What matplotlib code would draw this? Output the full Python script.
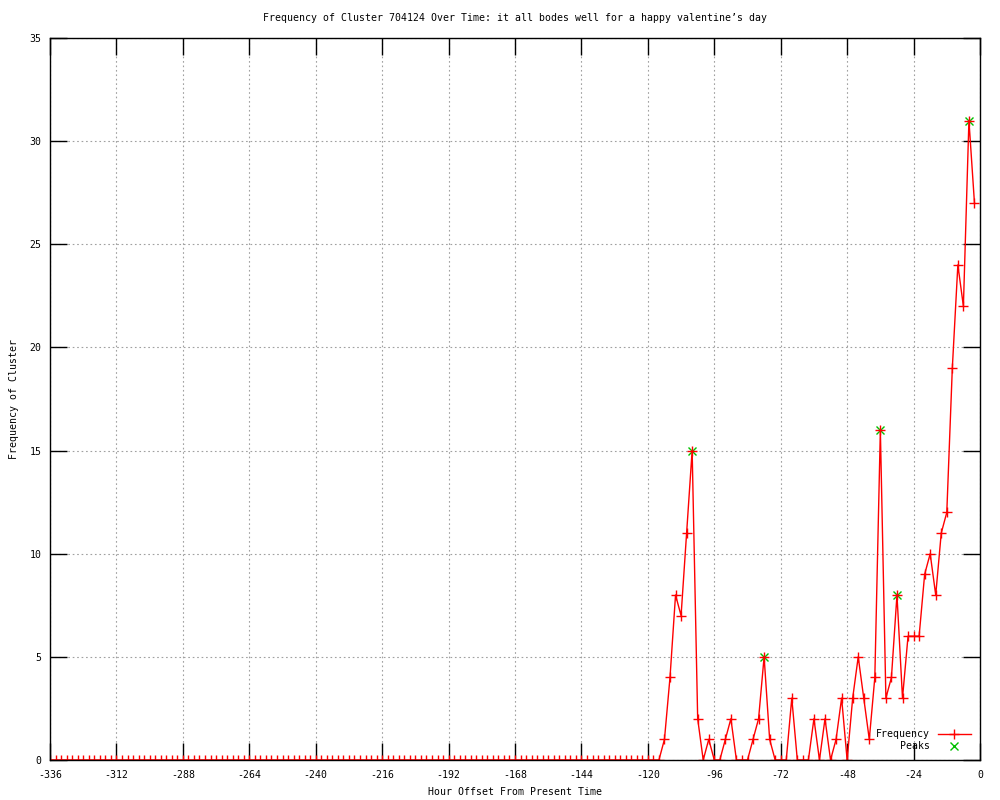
import numpy as np
import matplotlib
matplotlib.use('Agg')
import matplotlib.pyplot as plt

plt.rcParams['font.family'] = ['DejaVu Sans Mono']
plt.rcParams['font.size'] = 7.1
plt.rcParams['axes.unicode_minus'] = False

# hour offsets, one sample every 2 hours
hours = np.arange(-336, 0, 2)

# -336 .. -116 are all zero, then -114 .. -2
freq_quiet = [0] * 111
freq_active = [1, 4, 8, 7, 11, 15, 2, 0, 1, 0,
               0, 1, 2, 0, 0, 0, 1, 2, 5, 1,
               0, 0, 0, 3, 0, 0, 0, 2, 0, 2,
               0, 1, 3, 0, 3, 5, 3, 1, 4, 16,
               3, 4, 8, 3, 6, 6, 6, 9, 10, 8,
               11, 12, 19, 24, 22, 31, 27]
freq = np.array(freq_quiet + freq_active)

peak_hours = [-104, -78, -36, -30, -4]
peak_vals = [15, 5, 16, 8, 31]

fig = plt.figure(figsize=(10, 8), dpi=100)
ax = fig.add_axes([0.05, 0.05, 0.93, 0.9025])

ax.plot(peak_hours, peak_vals, linestyle='none', marker='x', color='#00c000',
        markersize=5.5, markeredgewidth=1, label='    Peaks', zorder=1)
ax.plot(hours, freq, color='#ff0000', linewidth=1, marker='+', markersize=6.5,
        markeredgewidth=1, label='Frequency', zorder=2)

ax.set_xlim(-336, 0)
ax.set_ylim(0, 35)
ax.set_xticks(np.arange(-336, 1, 24))
ax.set_yticks(np.arange(0, 36, 5))
ax.grid(True, color='#a0a0a0', linestyle=(0, (1.5, 2.5)), linewidth=0.8)
ax.tick_params(direction='in', length=12, width=1, top=True, right=True,
               labelsize=7.1)
ax.tick_params(axis='x', pad=7)
ax.tick_params(axis='y', pad=6)
for s in ax.spines.values():
    s.set_linewidth(1)

ax.set_title("Frequency of Cluster 704124 Over Time: it all bodes well for a happy valentine\u2019s day",
             fontsize=7.1, pad=12)
ax.set_xlabel('Hour Offset From Present Time', fontsize=7.1, labelpad=5)
ax.set_ylabel('Frequency of Cluster', fontsize=7.1, labelpad=8)

handles, labels = ax.get_legend_handles_labels()
ax.legend(handles[::-1], labels[::-1], loc='lower right', frameon=False,
          markerfirst=False, handlelength=3.4, fontsize=7.1,
          borderaxespad=0.5, labelspacing=0.2, handletextpad=0.8)

fig.savefig('out.png', dpi=100)
